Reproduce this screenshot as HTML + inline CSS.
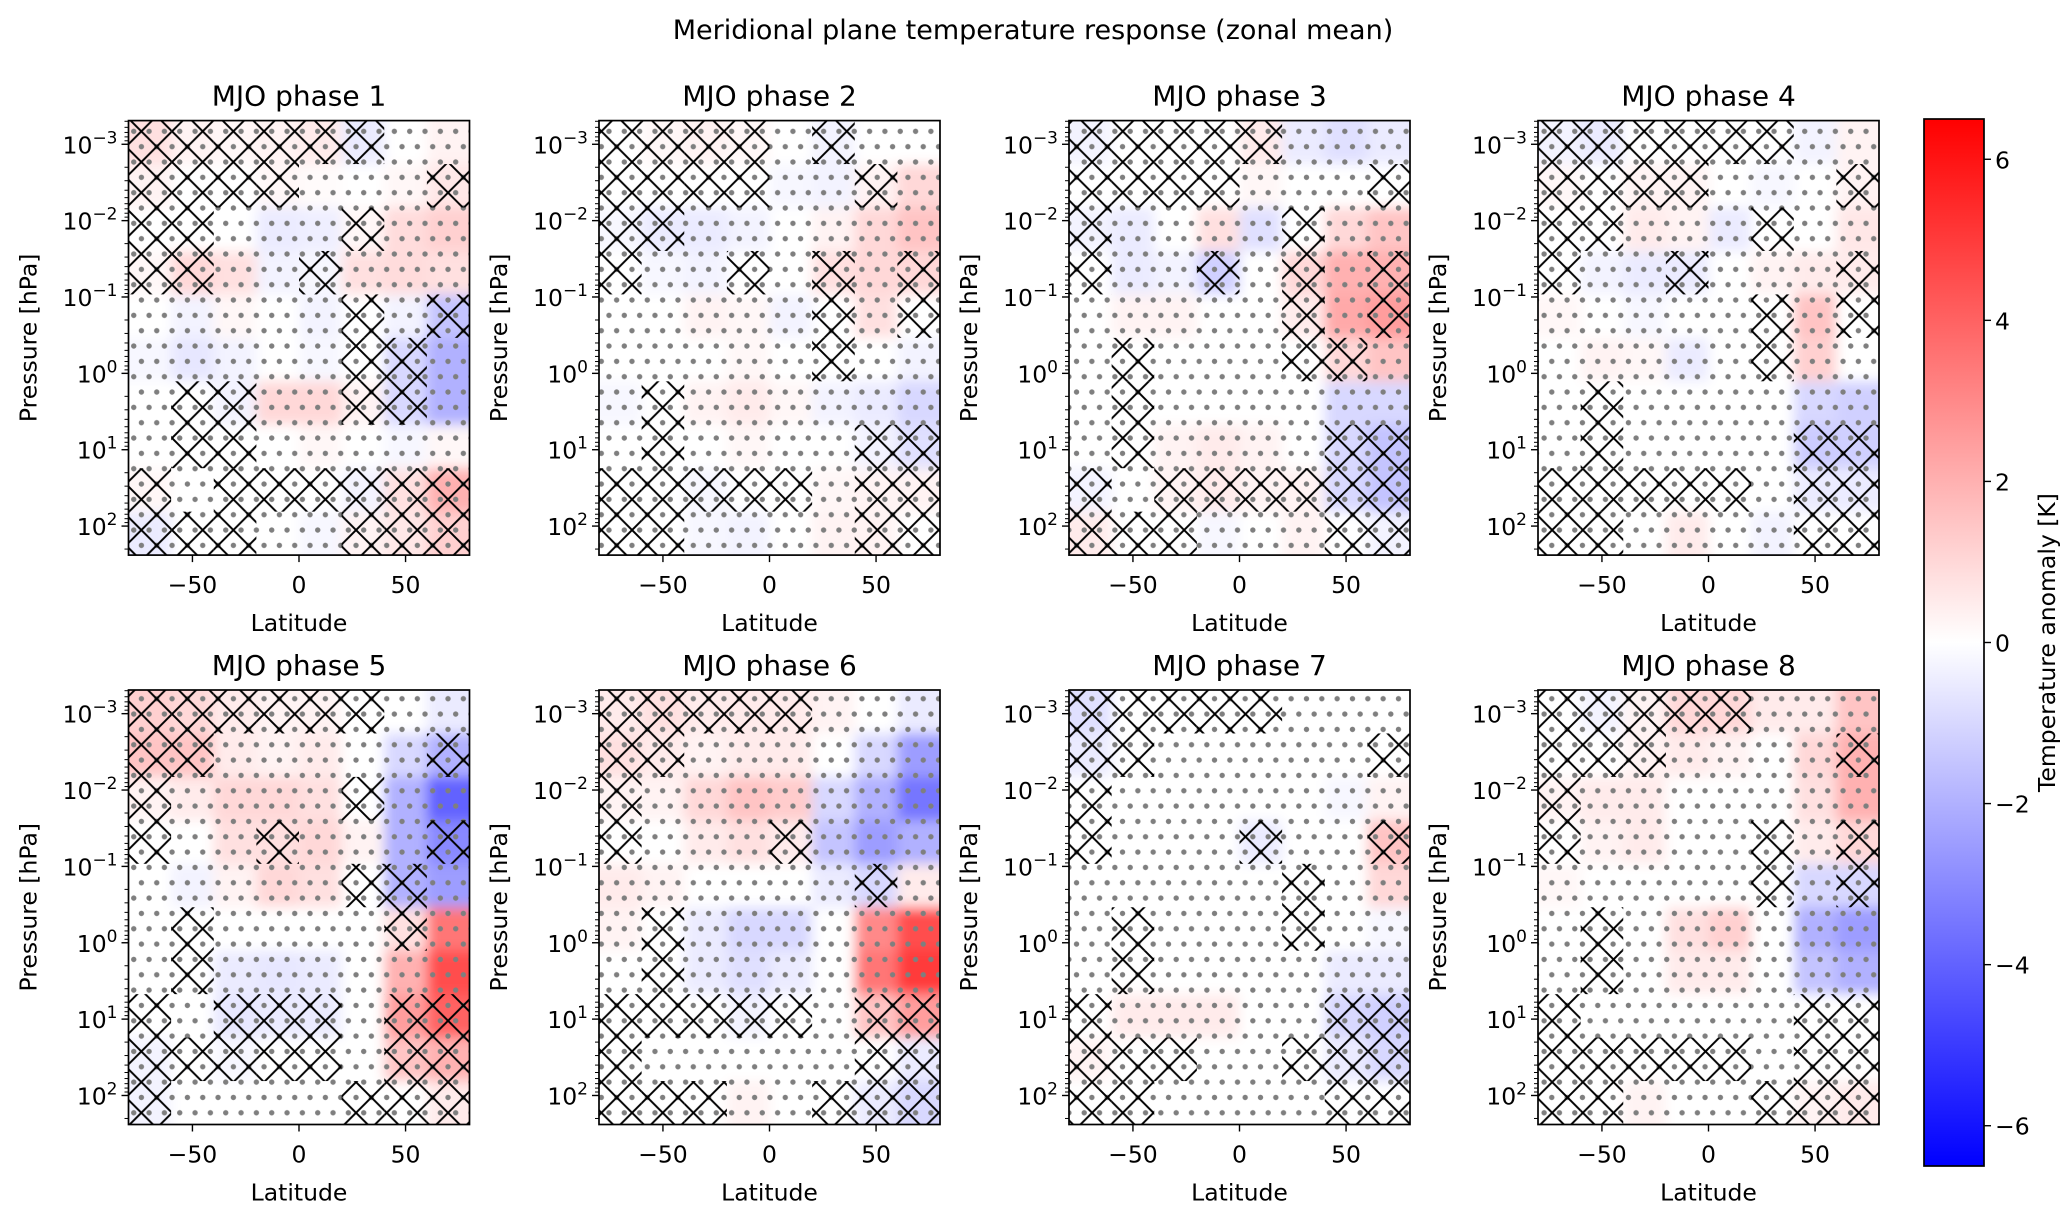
<!DOCTYPE html>
<html><head><meta charset="utf-8"><style>
html,body{margin:0;padding:0;background:#fff}
svg{display:block;font-family:"DejaVu Sans","Liberation Sans",sans-serif}
</style></head><body>
<svg id="fig" width="2067" height="1213" viewBox="0 0 2067 1213" xmlns="http://www.w3.org/2000/svg">
<defs>
<pattern id="dots" patternUnits="userSpaceOnUse" width="15.33" height="30.67" x="340.7" y="330.7">
<circle cx="0" cy="0" r="2.7" fill="#7f7f7f"/><circle cx="15.33" cy="0" r="2.7" fill="#7f7f7f"/>
<circle cx="0" cy="30.67" r="2.7" fill="#7f7f7f"/><circle cx="15.33" cy="30.67" r="2.7" fill="#7f7f7f"/>
<circle cx="7.67" cy="15.33" r="2.7" fill="#7f7f7f"/>
</pattern>
<pattern id="xh" patternUnits="userSpaceOnUse" width="30.67" height="30.67" x="340.7" y="330.7">
<line x1="0" y1="0" x2="30.67" y2="30.67" stroke="#000" stroke-width="2"/>
<line x1="30.67" y1="0" x2="0" y2="30.67" stroke="#000" stroke-width="2"/>
</pattern>
<filter id="blur" x="-10%" y="-10%" width="120%" height="120%"><feGaussianBlur stdDeviation="6"/></filter>
<linearGradient id="cbgrad" x1="0" y1="1" x2="0" y2="0">
<stop offset="0" stop-color="#0000ff"/><stop offset="0.5" stop-color="#ffffff"/><stop offset="1" stop-color="#ff0000"/>
</linearGradient>
</defs>
<text x="1033" y="39" font-size="27" text-anchor="middle">Meridional plane temperature response (zonal mean)</text>
</svg>
<script>
const latEdges=[-80,-60,-40,-20,0,20,40,60,80];
const logPTop=-3.31, logPBot=2.38;
const yTickExps=[-3,-2,-1,0,1,2];
const yTickLabels=["−3","−2","−1","0","1","2"];
const xTicks=[-50,0,50];
const xTickLabels=["−50","0","50"];
const cbTicks=[-6,-4,-2,0,2,4,6];
const cbTickLabels=["−6","−4","−2","0","2","4","6"];
const vmax=6.5;
const phaseNames=["MJO phase 1","MJO phase 2","MJO phase 3","MJO phase 4","MJO phase 5","MJO phase 6","MJO phase 7","MJO phase 8"];
const p1=[[0.8,0.3,0.2,0.3,0.5,-0.5,0,0.3],[0.3,0,0,0.2,0.1,0,0.2,0.6],[0,0,0,-0.5,-0.4,0.2,0.9,1.2],[0.2,1.0,0.8,-0.3,-0.2,0.8,0.9,0.8],[0,-0.3,0.2,0,-0.3,0,-0.3,-1.5],[-0.2,-0.6,-0.3,0,-0.2,0,-1,-2],[0,0,-0.3,1,1,0.3,-1,-2],[0,0,0,0,0.2,0,-0.2,0.2],[0.2,0,0,0,0,-0.3,0.8,2],[-0.5,0,0,0,-0.2,0.3,0.6,1.2]];
const p2=[[0,0.2,0.3,0.2,0,-0.3,0,0],[0,0,0,0,-0.2,-0.3,0.3,1],[-0.2,-0.5,-0.5,-0.3,0,0.3,1,1.5],[0,-0.2,-0.3,0,0,0.8,1,1],[0,0,0.3,0.2,-0.3,0,0.8,0],[0,0,0,0.2,0,0,0,-0.3],[-0.2,0,0.3,0.5,0.2,-0.3,-0.5,-1],[0,0,0,0.2,0,0,-0.3,-0.8],[0,0,-0.2,0,0,0.2,0.3,0.3],[0,0,-0.2,-0.3,0,0.3,0.3,0]];
const p3=[[-0.3,0,0,0,0.5,-0.5,-0.8,-0.5],[0,0,0,0,0.2,0,0,0],[-0.3,-0.5,0,0.8,-0.8,0,1,1.5],[0,-0.5,-0.3,-1.2,0,1,2,2],[0,0.3,0.3,0,0,0.5,2.2,2.5],[0,0,0,0,0,0,1,1.5],[0,0,0,0,0,0,-1,-1],[0,0,0.3,0.5,0.3,0,-1,-1.5],[-0.3,0,0.3,0.5,0.3,0.3,-1,-1.5],[0.5,0,0,-0.2,0,0.3,0,-0.3]];
const p4=[[-0.3,-0.5,0,0,0,0,-0.3,0.3],[0.2,0,0.3,0.3,0,-0.2,0,0.3],[0,0,0.5,0.3,-0.5,0,0,0.6],[0,-0.3,-0.5,-0.5,0,0.3,0.5,0.5],[0.2,0,-0.2,0,0,0,1.5,0],[0,0.3,0.2,-0.5,0,0,1.2,0],[0,0,0,0,0,0,-1,-1.2],[0,0,0,0,0,0,-1.3,-1.2],[0,0,0,0,0,0,-0.5,-0.5],[0,0,0,0.5,0,-0.3,0,0]];
const p5=[[1.2,1,0.5,0.3,0.3,0,0,-0.5],[1.5,1.5,0.5,0.3,0.5,0,-1,-2],[0.3,0.5,1,1,0.8,0,-2,-4],[0,0,0.8,0.8,1,0.3,-2,-3],[0,-0.3,0.3,1,0.8,0,-2,-2.5],[0,0,0,0,0,0,0.8,3.5],[0,0,-0.5,-0.6,-0.5,0,2,4.5],[0,0,-0.6,-0.5,-0.5,0,2.5,4],[-0.3,0,-0.2,0,0,0,1.5,2],[-0.3,0,0,0,0,0,0,0.5]];
const p6=[[0.5,0.8,0.5,0.5,0.5,0.3,0,-0.5],[0.8,0.5,0.3,0.5,0.5,0,-1,-2.5],[0.3,0.3,1,1.5,1.3,-1,-2,-3.5],[0,0,0.5,0.8,0.5,-1.5,-2.5,-2],[0.5,0.3,0,0,0,-0.5,-1,0.5],[0.3,0,-0.5,-1,-1,0,3,4.5],[0,0,-0.5,-0.8,-0.5,0,3.5,5],[0,0,0,-0.3,0,0,1.5,2.5],[0,0,0,0,0,0,0,-0.5],[0,0,0,0.3,0,0,-0.5,-1]];
const p7=[[-0.8,0,0,0,0,0,0,0],[-0.5,0,0,0,0,0,0,0],[0,0,0,0,0,0,-0.2,0.3],[0,0,0,0,-0.5,0,0,1.5],[0,0,0,0,0,0,0,1],[0,0,0,0,0,0,0,-0.2],[0,0,0,0,0,0,-0.5,-0.5],[0,0.5,0.5,0.5,0,0,-1,-1.2],[0.3,0,0,0,0,0,-0.5,-1],[0,0,0,0,0,0,0,0]];
const p8=[[0,-0.3,0.3,1,1,0.5,0.5,1.5],[0,0,0.3,0.5,0.3,0,1,2],[0.3,0.5,0.5,0,0,0,0.8,2],[0,0.3,0.5,0,0,0,0.5,1],[0.2,0,0,0,0,0,-1,-1],[0,0,0,0.8,1.2,0,-2,-2.5],[0,0,0,0.5,0.5,0,-1.5,-2],[0,0,0,0,0,0,0,0],[0,0,0,0,0,0,0,0],[0,0,0.3,0,0,0,0.3,0.5]];
const m1=[[1,1,1,1,1,1,0,0],[1,1,1,1,0,0,0,1],[1,1,0,0,0,1,0,0],[1,1,0,0,1,0,0,0],[0,0,0,0,0,1,0,1],[0,0,0,0,0,1,1,0],[0,1,1,0,0,1,1,0],[0,1,1,0,0,0,0,0],[1,0,1,1,1,1,1,1],[1,1,1,0,0,1,1,1]];
const m2=[[1,1,1,1,0,1,0,0],[1,1,1,1,0,0,1,0],[1,1,0,0,0,0,0,0],[1,0,0,1,0,1,0,1],[0,0,0,0,0,1,0,1],[0,0,0,0,0,1,0,0],[0,1,0,0,0,0,0,0],[0,1,0,0,0,0,1,1],[1,1,1,1,1,0,1,1],[1,1,0,0,0,0,1,1]];
const m3=[[1,1,1,1,1,0,0,0],[1,1,1,1,0,0,0,1],[1,0,0,0,0,1,0,0],[1,0,0,1,0,1,0,1],[0,0,0,0,0,1,0,1],[0,1,0,0,0,1,1,0],[0,1,0,0,0,0,0,0],[0,1,0,0,0,0,1,1],[1,0,1,1,1,1,1,1],[1,1,1,0,0,0,1,1]];
const m4=[[1,1,1,1,1,1,0,0],[1,1,1,1,0,0,0,1],[1,1,0,0,0,1,0,0],[1,0,0,1,0,0,0,1],[0,0,0,0,0,1,0,1],[0,0,0,0,0,1,0,0],[0,1,0,0,0,0,0,0],[0,1,0,0,0,0,1,1],[1,1,1,1,1,0,1,1],[1,1,0,0,0,0,1,1]];
const m5=[[1,1,1,1,1,1,0,0],[1,1,0,0,0,0,0,1],[1,0,0,0,0,1,0,0],[1,0,0,1,0,0,0,1],[0,0,0,0,0,1,1,0],[0,1,0,0,0,0,1,0],[0,1,0,0,0,0,0,0],[1,0,1,1,1,0,1,1],[1,1,1,1,1,0,1,1],[1,0,0,0,0,1,1,1]];
const m6=[[1,1,1,1,1,0,0,0],[1,1,0,0,0,0,0,0],[1,0,0,0,0,0,0,0],[1,0,0,0,1,0,0,0],[0,0,0,0,0,0,1,0],[0,1,0,0,0,0,0,0],[0,1,0,0,0,0,0,0],[1,1,1,1,1,0,1,1],[1,0,0,0,0,0,1,1],[1,1,1,0,0,1,1,1]];
const m7=[[1,1,1,1,1,0,0,0],[1,1,0,0,0,0,0,1],[1,0,0,0,0,0,0,0],[1,0,0,0,1,0,0,1],[0,0,0,0,0,1,0,0],[0,1,0,0,0,1,0,0],[0,1,0,0,0,0,0,0],[1,0,0,0,0,0,1,1],[1,1,1,0,0,1,1,1],[1,1,0,0,0,0,1,1]];
const m8=[[1,1,1,1,1,0,0,0],[1,1,1,0,0,0,0,1],[1,0,0,0,0,0,0,0],[1,0,0,0,0,1,0,1],[0,0,0,0,0,1,0,1],[0,1,0,0,0,0,0,0],[0,1,0,0,0,0,0,0],[1,0,0,0,0,0,1,1],[1,1,1,1,1,0,1,1],[1,1,0,0,0,1,1,1]];
const fields=[p1,p2,p3,p4,p5,p6,p7,p8];
const masks=[m1,m2,m3,m4,m5,m6,m7,m8];

const NS="http://www.w3.org/2000/svg";
const svg=document.getElementById('fig');
const colLeft=[128.5,599,1069,1538], rowTop=[120.6,690], W=341, H=434.5;
function mk(tag,attrs,parent){const e=document.createElementNS(NS,tag);for(const k in attrs)e.setAttribute(k,attrs[k]);(parent||svg).appendChild(e);return e;}
function color(v){let t=Math.max(-1,Math.min(1,v/vmax));if(t>=0){const c=Math.round(255*(1-t));return `rgb(255,${c},${c})`;}const c=Math.round(255*(1+t));return `rgb(${c},${c},255)`;}

fields.forEach((f,pi)=>{
  const L=colLeft[pi%4], T=rowTop[Math.floor(pi/4)];
  const xS=lat=>L+(lat+80)/160*W;
  const yS=lp=>T+(lp-logPTop)/(logPBot-logPTop)*H;
  const nR=f.length, dl=(logPBot-logPTop)/nR;
  const g=mk('g',{});
  
  
  const cid='clip'+pi;
  const cp=mk('clipPath',{id:cid},g);mk('rect',{x:L,y:T,width:W,height:H},cp);
  const inner=mk('g',{'clip-path':`url(#${cid})`},g);
  const heat=mk('g',{filter:'url(#blur)'},inner);
  mk('rect',{x:L-30,y:T-30,width:W+60,height:H+60,fill:'#fff'},heat);
  f.forEach((row,ri)=>row.forEach((v,ci)=>{
    let x0=xS(latEdges[ci]),x1=xS(latEdges[ci+1]),y0=yS(logPTop+ri*dl),y1=yS(logPTop+(ri+1)*dl);
    if(ci===0)x0-=30; if(ci===row.length-1)x1+=30; if(ri===0)y0-=30; if(ri===nR-1)y1+=30;
    const r=mk('rect',{x:x0,y:y0,width:x1-x0+0.5,height:y1-y0+0.5,fill:color(v)},heat);
    
    
  }));
  const dots=mk('rect',{x:L,y:T,width:W,height:H,fill:'url(#dots)'},inner);
  
  
  masks[pi].forEach((row,ri)=>row.forEach((m,ci)=>{
    if(!m)return;
    const x0=xS(latEdges[ci]),x1=xS(latEdges[ci+1]),y0=yS(logPTop+ri*dl),y1=yS(logPTop+(ri+1)*dl);
    const r=mk('rect',{x:x0,y:y0,width:x1-x0,height:y1-y0,fill:'url(#xh)'},inner);
    
    
  }));
  const fr=mk('rect',{x:L,y:T,width:W,height:H,fill:'none',stroke:'#000','stroke-width':1.7},g);
  
  
  for(let e=-4;e<=2;e++){for(let k=2;k<=9;k++){const lp=e+Math.log10(k);if(lp<logPTop||lp>logPBot)continue;mk('line',{x1:L,x2:L-4,y1:yS(lp),y2:yS(lp),stroke:'#000','stroke-width':1},g);}}
  yTickExps.forEach((e,i)=>{
    mk('line',{x1:L,x2:L-7,y1:yS(e),y2:yS(e),stroke:'#000','stroke-width':1.4},g);
    const t=mk('text',{x:L-11,y:yS(e)+9,'font-size':23.5,'text-anchor':'end'},g);
    
    
    t.textContent='10';
    const s=mk('tspan',{dy:-10,'font-size':17},t);s.textContent=yTickLabels[i];
  });
  xTicks.forEach((v,i)=>{
    mk('line',{x1:xS(v),x2:xS(v),y1:T+H,y2:T+H+7,stroke:'#000','stroke-width':1.4},g);
    const t=mk('text',{x:xS(v),y:T+H+38,'font-size':23.5,'text-anchor':'middle'},g);
    
    
    t.textContent=xTickLabels[i];
  });
  const xl=mk('text',{x:L+W/2,y:T+H+76,'font-size':23.5,'text-anchor':'middle'},g);
  
  
  xl.textContent='Latitude';
  const yl=mk('text',{x:0,y:0,'font-size':23.5,'text-anchor':'middle',transform:`translate(${L-92},${T+H/2}) rotate(-90)`},g);
  
  
  yl.textContent='Pressure [hPa]';
  const tt=mk('text',{x:L+W/2,y:T-15,'font-size':28,'text-anchor':'middle'},g);
  
  
  tt.textContent=phaseNames[pi];
});

const cbX=1924,cbW=60,cbT=119,cbB=1166;
const cbY=v=>cbT+(vmax-v)/(2*vmax)*(cbB-cbT);
const cbg=mk('g',{});


mk('rect',{x:cbX,y:cbT,width:cbW,height:cbB-cbT,fill:'url(#cbgrad)',stroke:'#000','stroke-width':1.7},cbg);
cbTicks.forEach((v,i)=>{
  mk('line',{x1:cbX+cbW,x2:cbX+cbW+7,y1:cbY(v),y2:cbY(v),stroke:'#000','stroke-width':1.4},cbg);
  const t=mk('text',{x:cbX+cbW+11,y:cbY(v)+9,'font-size':23.5},cbg);
  
  
  t.textContent=cbTickLabels[i];
});
const cl=mk('text',{x:0,y:0,'font-size':23.5,'text-anchor':'middle',transform:`translate(2055,${(cbT+cbB)/2}) rotate(-90)`},cbg);


cl.textContent='Temperature anomaly [K]';
</script>
</body></html>
